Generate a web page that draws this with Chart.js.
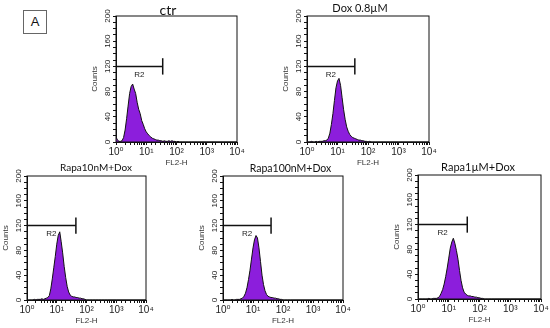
<!DOCTYPE html>
<html>
<head>
<meta charset="utf-8">
<script src="https://cdn.jsdelivr.net/npm/chart.js@4.4.1/dist/chart.umd.min.js"></script>
<style>
    html, body { margin: 0; padding: 0; background: #fff; width: 550px; height: 328px; overflow: hidden; position: relative; }
    canvas { position: absolute; }
    #tag { position: absolute; left: 23px; top: 10px; width: 22px; height: 22px; border: 1px solid #666;
           font: 13px 'Liberation Sans', Arial, sans-serif; text-align: center; line-height: 22px; color: #111; }
</style>
</head>
<body>
<div id="tag">A</div>
<canvas id="p0" width="156" height="168" style="left:90px;top:0px"></canvas>
<canvas id="p1" width="158" height="168" style="left:281px;top:0px"></canvas>
<canvas id="p2" width="190" height="166" style="left:1px;top:160px"></canvas>
<canvas id="p3" width="187" height="166" style="left:197px;top:160px"></canvas>
<canvas id="p4" width="172" height="166" style="left:392px;top:159px"></canvas>
<script>
// FL2-H channel values (log decades 10^0 .. 10^4)
const fl2 = [1, 1.12, 1.26, 1.41, 1.58, 1.78, 2, 2.24, 2.51, 2.82,
    3.16, 3.55, 3.98, 4.47, 5.01, 5.62, 6.31, 7.08, 7.94, 8.91,
    10, 11.2, 12.6, 14.1, 15.8, 17.8, 20, 22.4, 25.1, 28.2,
    31.6, 35.5, 39.8, 44.7, 50.1, 56.2, 63.1, 70.8, 79.4, 89.1,
    100, 112, 126, 141, 158, 178, 200, 251, 316, 398,
    501, 1000, 10000];

// counts per channel
const ctr = [8, 3, 1, 1, 2, 7, 19, 37, 57, 77,
    88, 92, 84, 77, 63, 52, 45, 34, 28, 21,
    16, 13, 10, 8, 6, 5, 4, 3, 3, 2,
    2, 1, 2, 1, 1, 2, 1, 2, 1, 1,
    0, 1, 0, 0, 0, 0, 0, 0, 0, 0,
    0, 0, 0];
const dox = [2, 0, 0, 1, 0, 0, 1, 0, 1, 1,
    1, 2, 2, 3, 6, 14, 28, 45, 66, 86,
    97, 101, 90, 71, 52, 36, 24, 17, 12, 9,
    7, 6, 5, 4, 3, 3, 2, 2, 1, 1,
    0, 1, 0, 0, 0, 0, 0, 0, 0, 0,
    0, 0, 0];
const rapa10 = [1, 0, 0, 0, 0, 1, 0, 1, 1, 1,
    2, 1, 2, 3, 4, 7, 18, 34, 52, 70,
    90, 104, 110, 94, 76, 54, 36, 22, 13, 8,
    6, 5, 5, 4, 4, 3, 3, 2, 2, 1,
    0, 0, 0, 0, 0, 0, 0, 0, 0, 0,
    0, 0, 0];
const rapa100 = [1, 0, 0, 0, 0, 0, 1, 0, 0, 1,
    1, 1, 2, 3, 6, 11, 20, 33, 48, 66,
    84, 97, 104, 100, 84, 62, 40, 25, 15, 9,
    6, 5, 4, 4, 3, 3, 2, 2, 1, 1,
    0, 0, 0, 0, 0, 0, 0, 0, 0, 0,
    0, 0, 0];
const rapa1u = [1, 0, 0, 0, 0, 0, 0, 1, 0, 0,
    1, 1, 1, 2, 4, 9, 15, 24, 36, 50,
    66, 82, 92, 98, 90, 78, 64, 46, 30, 18,
    11, 8, 6, 5, 5, 4, 4, 3, 3, 2,
    2, 1, 1, 0, 0, 0, 0, 0, 0, 0,
    0, 0, 0];

const titles = ['ctr', 'Dox 0.8µM', 'Rapa10nM+Dox', 'Rapa100nM+Dox', 'Rapa1µM+Dox'];
const series = [ctr, dox, rapa10, rapa100, rapa1u];
const gateEnds = [35, 37, 44, 40, 40];   // R2 marker upper bound
const gateLevel = 120;
const xTickLabels = ['10⁰', '10¹', '10²', '10³', '10⁴'];
const yTickLabels = [0, 40, 80, 120, 160, 200];

// per panel layout tweaks (the source panels were pasted at slightly different scales)
const rightGap = [9, 10, 45, 41, 23];
const titleSize = [14, 11, 10, 10.5, 11];
const titleTop = [4, 0, 0, 1, 0];
const tickFont = "'Liberation Sans', Arial, 'DejaVu Sans', sans-serif";

// box round the plot area
const framePlugin = {
    id: 'frame',
    afterDatasetsDraw(chart) {
        const { ctx, chartArea: a } = chart;
        ctx.save();
        ctx.strokeStyle = '#111';
        ctx.lineWidth = 1;
        ctx.strokeRect(a.left, a.top, a.right - a.left, a.bottom - a.top);
        ctx.restore();
    }
};

// "R2" under the gate bar
const gateLabelPlugin = {
    id: 'gateLabel',
    afterDatasetsDraw(chart, args, opts) {
        const { ctx, scales } = chart;
        ctx.save();
        ctx.font = `8px ${tickFont}`;
        ctx.fillStyle = '#222';
        ctx.textAlign = 'center';
        ctx.textBaseline = 'middle';
        ctx.fillText(opts.text, scales.x.getPixelForValue(Math.sqrt(opts.end)), scales.y.getPixelForValue(opts.level - 13));
        ctx.restore();
    }
};

series.forEach((counts, i) => {
    const end = gateEnds[i];
    new Chart(document.getElementById('p' + i), {
        type: 'line',
        data: {
            datasets: [
                {
                    data: fl2.map((x, k) => ({ x, y: counts[k] })),
                    borderColor: '#111',
                    borderWidth: 1,
                    backgroundColor: '#8C1EDC',
                    fill: 'origin',
                    pointRadius: 0,
                    tension: 0
                },
                {
                    data: [{ x: 1, y: gateLevel }, { x: end, y: gateLevel }],
                    borderColor: '#111', borderWidth: 1.5, pointRadius: 0, fill: false
                },
                {
                    data: [{ x: end, y: gateLevel - 13 }, { x: end, y: gateLevel + 13 }],
                    borderColor: '#111', borderWidth: 1.5, pointRadius: 0, fill: false
                }
            ]
        },
        options: {
            responsive: false,
            animation: false,
            layout: { padding: 0 },
            plugins: {
                legend: { display: false },
                tooltip: { enabled: false },
                title: {
                    display: true,
                    text: titles[i],
                    color: '#111',
                    font: { family: 'Lato', size: titleSize[i], weight: 'normal', lineHeight: (16 - titleTop[i]) + 'px' },
                    padding: { top: titleTop[i], bottom: 0 }
                },
                gateLabel: { text: 'R2', end, level: gateLevel }
            },
            scales: {
                x: {
                    type: 'logarithmic',
                    min: 1,
                    max: 10000,
                    afterFit: s => { s.height = 26; s.paddingLeft = 0; s.paddingRight = 0; },
                    border: { display: true, color: '#111' },
                    grid: { drawOnChartArea: false, drawTicks: true, tickLength: 3, color: '#111' },
                    ticks: {
                        autoSkip: false,
                        maxRotation: 0,
                        minRotation: 0,
                        padding: 1,
                        color: '#222',
                        font: { family: tickFont, size: 10 },
                        callback: v => {
                            const e = Math.log10(v);
                            return Math.abs(e - Math.round(e)) < 1e-9 ? xTickLabels[Math.round(e)] : '';
                        }
                    },
                    title: { display: true, text: 'FL2-H', color: '#333', padding: 0, font: { family: tickFont, size: 8 } }
                },
                y: {
                    min: 0,
                    max: 200,
                    afterFit: s => { s.width = 26; },
                    border: { display: true, color: '#111' },
                    grid: { drawOnChartArea: false, drawTicks: true, tickLength: 3, color: '#111' },
                    ticks: {
                        stepSize: 10,
                        autoSkip: false,
                        minRotation: 90,
                        maxRotation: 90,
                        crossAlign: 'center',
                        padding: -1,
                        color: '#222',
                        font: { family: tickFont, size: 8 },
                        callback: v => yTickLabels.includes(v) ? String(v) : ''
                    },
                    title: { display: true, text: 'Counts', color: '#333', padding: 0, font: { family: tickFont, size: 8 } }
                },
                // empty box on the right so the title sits where the original puts it
                yGap: {
                    position: 'right',
                    display: true,
                    grid: { display: false },
                    border: { display: false },
                    ticks: { display: false },
                    afterFit: s => { s.width = rightGap[i]; }
                }
            }
        },
        plugins: [framePlugin, gateLabelPlugin]
    });
});
</script>
</body>
</html>
